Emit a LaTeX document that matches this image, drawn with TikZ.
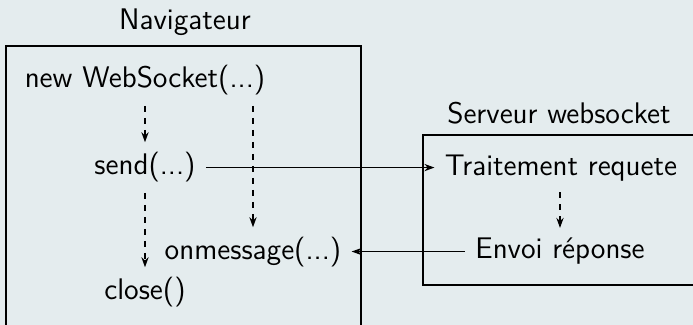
\documentclass[tikz,border=0pt]{standalone}
\usepackage{fontspec}
\usetikzlibrary{arrows.meta}
\definecolor{bg}{HTML}{E4ECEE}
\begin{document}
\begin{tikzpicture}[x=0.5pt,y=-0.5pt,
  lbl/.style={anchor=base,inner sep=5pt,font=\sffamily\fontsize{14.9}{18}\selectfont},
  frame/.style={draw=black,line width=0.6pt},
  flow/.style={line width=0.8pt,-{Stealth[length=5pt,width=3.6pt,inset=1.6pt]}},
  dflow/.style={flow,dash pattern=on 3pt off 3pt}]
\useasboundingbox (0,0) rectangle (693,325);
\fill[bg] (0,0) rectangle (693,325);
\begin{scope}
\clip (0,0) rectangle (693,325);
\draw[frame] (6,46) rectangle (361,345);
\draw[frame] (423,135) rectangle (710,285);
\end{scope}
\node[lbl] (nav) at (185,30) {Navigateur};
\node[lbl] (new) at (145,88) {new WebSocket(...)};
\node[lbl] (send) at (145,175) {send(...)};
\node[lbl] (onm) at (253,260) {onmessage(...)};
\node[lbl] (close) at (145,300) {close()};
\node[lbl] (serv) at (559,124) {Serveur websocket};
\node[lbl] (trait) at (561,176) {Traitement requete};
\node[lbl] (envoi) at (560,259) {Envoi réponse};
\draw[dflow] (send |- new.south) -- (send.north);
\draw[dflow] (onm |- new.south) -- (onm.north);
\draw[dflow] (send.south) -- (close.north);
\draw[dflow] (trait.south -| envoi) -- (envoi.north);
\draw[flow] (send.east) -- (send.east -| trait.west);
\draw[flow] (envoi.west) -- (envoi.west -| onm.east);
\end{tikzpicture}
\end{document}
